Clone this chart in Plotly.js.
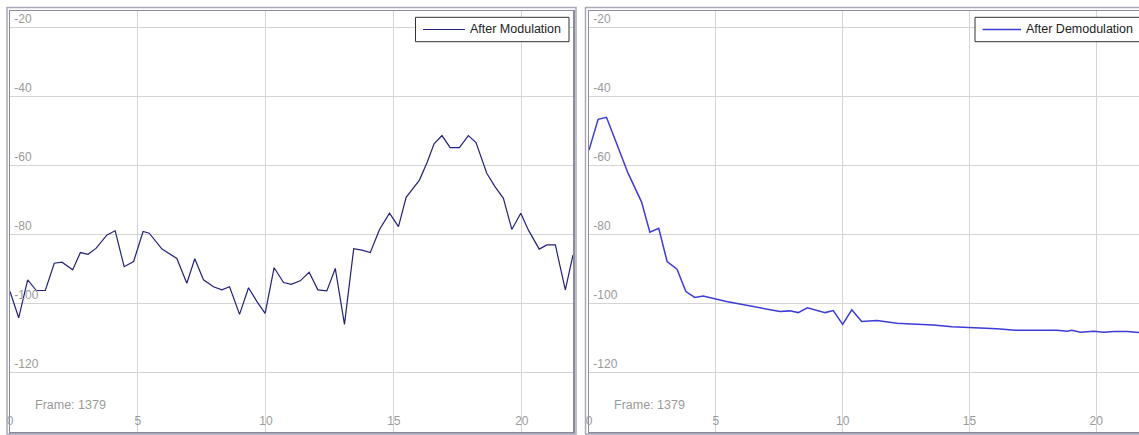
<!DOCTYPE html>
<html>
<head>
<meta charset="utf-8">
<script src="https://cdn.plot.ly/plotly-3.0.1.min.js"></script>
<style>
  html, body { margin: 0; padding: 0; background: #ffffff; overflow: hidden; }
  #chart { width: 1148px; height: 435px; }
</style>
</head>
<body>
<div id="chart"></div>
<script>
// ---- data ----
const modX = [0.0, 0.34, 0.69, 1.03, 1.38, 1.73, 2.03, 2.45, 2.75, 3.05, 3.36, 3.79, 4.11, 4.46, 4.83, 5.20, 5.44, 5.94, 6.52, 6.91, 7.22, 7.56, 7.95, 8.28, 8.58, 8.97, 9.32, 9.65, 9.97, 10.32, 10.69, 10.99, 11.34, 11.69, 12.03, 12.38, 12.71, 13.07, 13.43, 13.75, 14.08, 14.44, 14.83, 15.18, 15.48, 15.70, 16.00, 16.31, 16.57, 16.88, 17.20, 17.56, 17.91, 18.21, 18.44, 18.63, 18.95, 19.28, 19.61, 19.96, 20.26, 20.68, 20.98, 21.31, 21.70, 22.00];
const modY = [-96.6, -104.2, -93.2, -96.3, -96.3, -88.4, -88.1, -90.3, -85.3, -85.8, -84.1, -80.2, -79.0, -89.4, -87.9, -79.2, -79.7, -84.3, -87.0, -94.2, -87.1, -93.2, -95.2, -96.1, -95.2, -103.2, -95.5, -99.5, -102.9, -89.7, -94.0, -94.5, -93.5, -91.0, -96.1, -96.4, -89.9, -106.1, -84.2, -84.6, -85.3, -78.6, -73.9, -77.8, -69.3, -67.2, -64.3, -59.0, -53.8, -51.4, -54.9, -54.9, -51.4, -53.4, -58.0, -62.3, -66.2, -69.6, -78.6, -73.9, -78.8, -84.3, -83.1, -83.1, -96.1, -86.0];

const demodX = [0.0, 0.36, 0.69, 1.08, 1.54, 2.07, 2.40, 2.75, 3.08, 3.47, 3.82, 4.17, 4.50, 5.42, 6.47, 7.53, 7.92, 8.25, 8.61, 9.31, 9.63, 10.00, 10.36, 10.75, 11.35, 12.14, 12.93, 13.58, 14.31, 15.29, 16.08, 16.81, 18.45, 18.85, 19.04, 19.37, 19.90, 20.29, 20.69, 21.22, 21.70, 22.00];
const demodY = [-55.6, -46.7, -46.1, -53.6, -62.3, -70.6, -79.4, -78.3, -87.9, -90.1, -96.6, -98.3, -97.9, -99.5, -101.0, -102.4, -102.2, -102.7, -101.3, -102.7, -102.1, -106.1, -101.9, -105.3, -105.0, -105.8, -106.1, -106.3, -106.8, -107.1, -107.4, -107.8, -107.8, -108.1, -107.8, -108.4, -108.1, -108.4, -108.2, -108.2, -108.5, -108.6];

const xTickVals = [0, 5, 10, 15, 20];
const xTickText = ["0", "5", "10", "15", "20"];
const yTickVals = [-20, -40, -60, -80, -100, -120];
const yTickText = ["-20", "-40", "-60", "-80", "-100", "-120"];

const seriesNames = ["After Modulation", "After Demodulation"];
const frameLabel = "Frame: 1379";

// ---- layout helpers (pixel -> paper) ----
const W = 1148, H = 435;
const px = v => v / W;
const py = v => 1 - v / H;

const modColor = "#22227a";
const demodColor = "#3c3cd6";
const gridColor = "#d4d4d4";
const tickColor = "#9a9a9a";
const font = "Liberation Sans, Arial, sans-serif";

const traces = [
  { x: modX, y: modY, type: "scatter", mode: "lines", name: seriesNames[0],
    line: { color: modColor, width: 1.2 }, xaxis: "x", yaxis: "y", showlegend: false },
  { x: demodX, y: demodY, type: "scatter", mode: "lines", name: seriesNames[1],
    line: { color: demodColor, width: 1.5 }, xaxis: "x2", yaxis: "y2", showlegend: false }
];

function xAx(domain) {
  return {
    domain: domain, range: [0, 22], tickvals: xTickVals, ticktext: xTickText,
    ticklabelposition: "inside", ticklabeloverflow: "allow", ticklabelstandoff: 4,
    ticks: "", showgrid: true, gridcolor: gridColor, gridwidth: 1, zeroline: false,
    showline: true, mirror: true, linecolor: "#8a8a9c", linewidth: 1.5,
    tickfont: { family: font, size: 12, color: tickColor }, fixedrange: true
  };
}
function yAx(anchor) {
  return {
    domain: [1 - 432 / H, 1 - 11 / H], range: [-137.3, -15.3], anchor: anchor,
    tickvals: yTickVals, ticktext: yTickText,
    ticklabelposition: "inside top", ticklabeloverflow: "allow", ticklabelstandoff: 3,
    ticks: "", showgrid: true, gridcolor: gridColor, gridwidth: 1, zeroline: false,
    showline: true, mirror: true, linecolor: "#8a8a9c", linewidth: 1.5,
    tickfont: { family: font, size: 12, color: tickColor }, fixedrange: true
  };
}

const shapes = [
  // outer panel frames
  { type: "rect", xref: "paper", yref: "paper", x0: px(7), x1: px(576), y0: py(434), y1: py(7.5),
    line: { color: "#a9a9ba", width: 1.5 }, layer: "above" },
  { type: "rect", xref: "paper", yref: "paper", x0: px(585.5), x1: px(1160), y0: py(434), y1: py(7.5),
    line: { color: "#a9a9ba", width: 1.5 }, layer: "above" },
  // legend boxes
  { type: "rect", xref: "paper", yref: "paper", x0: px(415.5), x1: px(569), y0: py(41.7), y1: py(17.3),
    line: { color: "#333333", width: 1 }, fillcolor: "#ffffff", layer: "above" },
  { type: "line", xref: "paper", yref: "paper", x0: px(423), x1: px(465), y0: py(29.5), y1: py(29.5),
    line: { color: modColor, width: 1.2 }, layer: "above" },
  { type: "rect", xref: "paper", yref: "paper", x0: px(975), x1: px(1141), y0: py(41.7), y1: py(17.3),
    line: { color: "#333333", width: 1 }, fillcolor: "#ffffff", layer: "above" },
  { type: "line", xref: "paper", yref: "paper", x0: px(982.6), x1: px(1021), y0: py(29.5), y1: py(29.5),
    line: { color: demodColor, width: 1.5 }, layer: "above" }
];

const annotations = [
  { xref: "paper", yref: "paper", x: px(468), y: py(29.5), xanchor: "left", yanchor: "middle",
    text: seriesNames[0], showarrow: false, font: { family: font, size: 12.5, color: "#222222" } },
  { xref: "paper", yref: "paper", x: px(1024), y: py(29.5), xanchor: "left", yanchor: "middle",
    text: seriesNames[1], showarrow: false, font: { family: font, size: 12.5, color: "#222222" } },
  { xref: "paper", yref: "paper", x: px(33), y: py(405), xanchor: "left", yanchor: "middle",
    text: frameLabel, showarrow: false, font: { family: font, size: 12.5, color: tickColor } },
  { xref: "paper", yref: "paper", x: px(612), y: py(405), xanchor: "left", yanchor: "middle",
    text: frameLabel, showarrow: false, font: { family: font, size: 12.5, color: tickColor } }
];

const layout = {
  width: W, height: H,
  margin: { l: 0, r: 0, t: 0, b: 0, pad: 0 },
  paper_bgcolor: "#ffffff", plot_bgcolor: "#ffffff",
  showlegend: false,
  xaxis: xAx([10 / W, 573 / W]),
  yaxis: yAx("x"),
  xaxis2: Object.assign(xAx([589 / W, 1147 / W]), { anchor: "y2" }),
  yaxis2: yAx("x2"),
  shapes: shapes,
  annotations: annotations
};

Plotly.newPlot("chart", traces, layout, { displayModeBar: false, staticPlot: true });
</script>
</body>
</html>
